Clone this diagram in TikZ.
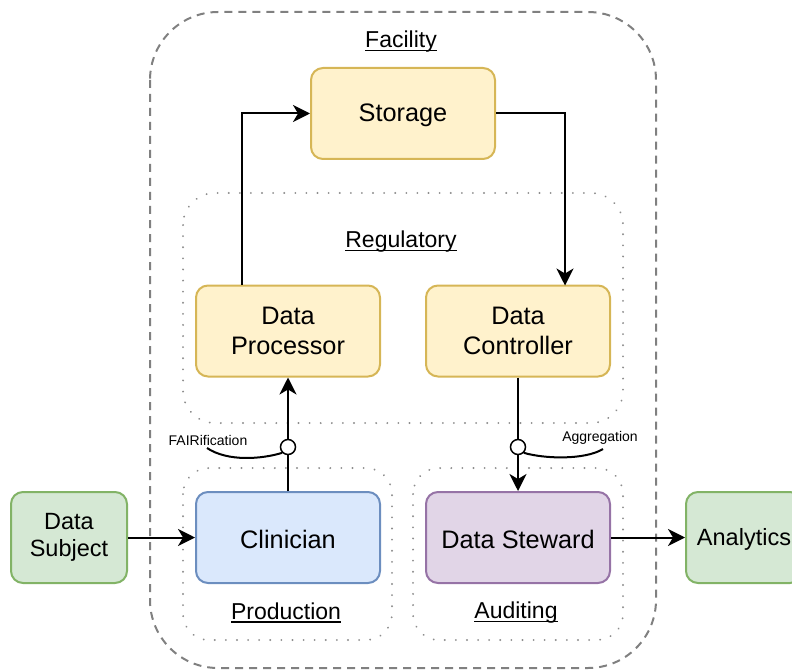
\documentclass[tikz,border=0pt]{standalone}
\usepackage{fontspec}
\setmainfont{Liberation Sans}
\usetikzlibrary{arrows.meta}
\definecolor{yfill}{HTML}{FFF2CC}\definecolor{ydraw}{HTML}{D6B656}
\definecolor{bfill}{HTML}{DAE8FC}\definecolor{bdraw}{HTML}{6C8EBF}
\definecolor{pfill}{HTML}{E1D5E7}\definecolor{pdraw}{HTML}{9673A6}
\definecolor{gfill}{HTML}{D5E8D4}\definecolor{gdraw}{HTML}{82B366}
\definecolor{cgray}{HTML}{808080}
\newcommand{\myul}[1]{\setbox0\hbox{#1}\rlap{\rule[-3.5pt]{\wd0}{1.8pt}}\box0}
\newcommand{\low}[1]{\raisebox{-1.5pt}[\height][\depth]{#1}}
\tikzset{
  box/.style={rectangle, rounded corners=12pt, line width=2pt, minimum width=184pt,
    minimum height=91pt, align=center, inner sep=0pt,
    font=\fontsize{25.3}{30}\selectfont},
  ybox/.style={box, fill=yfill, draw=ydraw},
  bbox/.style={box, fill=bfill, draw=bdraw},
  pbox/.style={box, fill=pfill, draw=pdraw},
  gbox/.style={box, fill=gfill, draw=gdraw, minimum width=116pt, font=\fontsize{23.5}{27}\selectfont},
  conn/.style={line width=2pt, -{Stealth[length=17pt,width=17pt,inset=5pt]}},
  plain/.style={line width=2pt},
  facility/.style={draw=cgray, line width=2pt, dash pattern=on 8pt off 6pt, rounded corners=68pt},
  zone/.style={draw=cgray!90, line width=2pt, dash pattern=on 0.1pt off 11pt, line cap=round},
  zlabel/.style={font=\fontsize{23}{27}\selectfont, inner sep=0pt},
  slabel/.style={font=\fontsize{14}{17}\selectfont, inner sep=0pt},
  lolli/.style={circle, draw, fill=white, line width=1.5pt, minimum size=15pt, inner sep=0pt},
}
\begin{document}
\begin{tikzpicture}[x=1pt,y=-1pt]
\useasboundingbox (0,0) rectangle (792,671);
% containers
\draw[facility] (150,12) rectangle (656,668);
\draw[zone, rounded corners=32pt] (183,193) rectangle (623,423);
\draw[zone, rounded corners=26pt] (183,468) rectangle (392,640);
\draw[zone, rounded corners=26pt] (413,468) rectangle (623,640);
\node[zlabel] (lfac) at (401,42) {\myul{Facility}};
\node[zlabel] (lreg) at (401,242) {\myul{Regulatory}};
\node[zlabel] (lprod) at (286,613) {\myul{Production}};
\node[zlabel] (laud) at (516,613) {\myul{Auditing}};
% nodes
\node[ybox] (sto) at (403,113.5) {\low{Storage}};
\node[ybox] (proc) at (288,331) {Data\\Processor};
\node[ybox] (ctrl) at (518,331) {Data\\Controller};
\node[bbox] (clin) at (288,537.5) {\low{Clinician}};
\node[pbox] (stew) at (518,537.5) {\low{Data Steward}};
\node[gbox] (subj) at (69,537.5) {Data\\Subject};
\node[gbox] (ana) at (744,537.5) {\low{Analytics}};
% connectors
\draw[conn] (subj.east) -- (clin.west);
\draw[conn] (clin.north) -- (proc.south);
\draw[conn] (proc.north -| 242,0) -- (242,113.5) -- (sto.west);
\draw[conn] (sto.east) -- (565,113.5) -- (565,285.5);
\draw[conn] (ctrl.south) -- (stew.north);
\draw[conn] (stew.east) -- (ana.west);
% lollipops
\node[lolli] (fc) at (288,447) {};
\node[lolli] (ac) at (518,447) {};
\coordinate (fa) at (207,448);
\coordinate (ag) at (603,449);
\draw[plain] (fa) .. controls (228,462) and (262,459) .. (fc.south west);
\draw[plain] (ac.south east) .. controls (545,459) and (585,460) .. (ag);
\node[slabel] (lfair) at (208,440) {FAIRification};
\node[slabel] (lagg) at (600,438) {Aggregation};
\end{tikzpicture}
\end{document}
